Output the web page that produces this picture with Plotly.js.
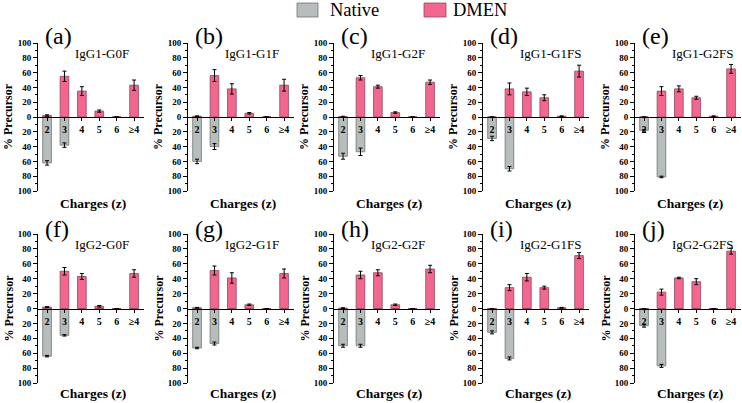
<!DOCTYPE html>
<html><head><meta charset="utf-8">
<script src="https://cdn.plot.ly/plotly-3.0.1.min.js"></script>
<style>html,body{margin:0;padding:0;background:#fff}#chart{width:742px;height:403px}</style>
</head><body><div id="chart"></div>
<script>
const categories = ['2', '3', '4', '5', '6', '≥4'];
const panelLetters = ['(a)', '(b)', '(c)', '(d)', '(e)', '(f)', '(g)', '(h)', '(i)', '(j)'];
const panelNames = ['IgG1-G0F', 'IgG1-G1F', 'IgG1-G2F', 'IgG1-G1FS', 'IgG1-G2FS',
                    'IgG2-G0F', 'IgG2-G1F', 'IgG2-G2F', 'IgG2-G1FS', 'IgG2-G2FS'];
const yTickValues = [-100, -80, -60, -40, -20, 0, 20, 40, 60, 80, 100];
const yTickLabels = ['100', '80', '60', '40', '20', '0', '20', '40', '60', '80', '100'];
const seriesNames = ['Native', 'DMEN'];

// % precursor per charge state (DMEN plotted upward, Native plotted downward)
const dmenA = [2, 55, 35, 8, 0, 43];      const dmenErrA = [1, 7, 6, 1.5, 0, 7];
const nativeA = [62, 38, 0, 0, 0, 0];     const nativeErrA = [3, 3, 0, 0, 0, 0];
const dmenB = [1, 56, 38, 5, 0, 43];      const dmenErrB = [0.5, 8, 7, 1, 0, 8];
const nativeB = [60, 40, 0, 0, 0, 0];     const nativeErrB = [3, 4, 0, 0, 0, 0];
const dmenC = [0.5, 53, 41, 6, 0, 47];    const dmenErrC = [0.5, 3, 2, 1, 0, 3];
const nativeC = [53, 47, 0, 0, 0, 0];     const nativeErrC = [4, 5, 0, 0, 0, 0];
const dmenD = [0, 38, 34, 26, 1, 62];     const dmenErrD = [0, 8, 5, 4, 0.5, 8];
const nativeD = [29, 70, 0, 0, 0, 0];     const nativeErrD = [3, 3, 0, 0, 0, 0];
const dmenE = [0, 35, 38, 26, 1, 65];     const dmenErrE = [0, 6, 4, 2, 0.5, 6];
const nativeE = [18, 81, 0, 0, 0, 0];     const nativeErrE = [1, 1, 0, 0, 0, 0];
const dmenF = [2, 50, 43, 3, 0, 47];      const dmenErrF = [0.5, 5, 4, 1, 0, 5];
const nativeF = [64, 36, 0, 0, 0, 0];     const nativeErrF = [1, 1, 0, 0, 0, 0];
const dmenG = [1, 51, 41, 5, 0, 47];      const dmenErrG = [0.5, 6, 7, 1, 0, 6];
const nativeG = [53, 47, 0, 0, 0, 0];     const nativeErrG = [1, 2, 0, 0, 0, 0];
const dmenH = [0.5, 45, 48, 5, 0, 53];    const dmenErrH = [0.5, 5, 4, 1, 0, 5];
const nativeH = [50, 50, 0, 0, 0, 0];     const nativeErrH = [2, 2, 0, 0, 0, 0];
const dmenI = [0, 28, 42, 28, 1, 71];     const dmenErrI = [0, 4, 5, 2, 0.5, 4];
const nativeI = [32, 67, 0, 0, 0, 0];     const nativeErrI = [2, 2, 0, 0, 0, 0];
const dmenJ = [0, 22, 41, 36, 0, 77];     const dmenErrJ = [0, 4, 1, 4, 0, 4];
const nativeJ = [23, 77, 0, 0, 0, 0];     const nativeErrJ = [2, 2, 0, 0, 0, 0];

const dmenSets = [dmenA, dmenB, dmenC, dmenD, dmenE, dmenF, dmenG, dmenH, dmenI, dmenJ];
const dmenErrSets = [dmenErrA, dmenErrB, dmenErrC, dmenErrD, dmenErrE, dmenErrF, dmenErrG, dmenErrH, dmenErrI, dmenErrJ];
const nativeSets = [nativeA, nativeB, nativeC, nativeD, nativeE, nativeF, nativeG, nativeH, nativeI, nativeJ];
const nativeErrSets = [nativeErrA, nativeErrB, nativeErrC, nativeErrD, nativeErrE, nativeErrF, nativeErrG, nativeErrH, nativeErrI, nativeErrJ];

const W = 742, H = 403;
const SERIF = 'Liberation Serif';
const GRAY = '#B7BDBD', GRAY_LINE = '#6F7474';
const PINK = '#F3668F', PINK_LINE = '#8E4A5C';
const colLeft = [38, 188, 334, 483, 635];
const plotW = 106;
const rowTop = [43, 234], rowBot = [191, 383];
const px = v => v / W;
const py = v => 1 - v / H;

const traces = [];
const layout = {
  width: W, height: H,
  margin: {l: 0, r: 0, t: 0, b: 0},
  paper_bgcolor: '#fff', plot_bgcolor: 'rgba(0,0,0,0)',
  barmode: 'overlay', showlegend: false,
  font: {family: SERIF, color: '#000'},
  annotations: [], shapes: []
};

for (let i = 0; i < 10; i++) {
  const col = i % 5, row = Math.floor(i / 5);
  const n = i + 1;
  const xa = n === 1 ? 'xaxis' : 'xaxis' + n;
  const ya = n === 1 ? 'yaxis' : 'yaxis' + n;
  const xr = n === 1 ? 'x' : 'x' + n;
  const yr = n === 1 ? 'y' : 'y' + n;
  const left = colLeft[col];
  const top = rowTop[row], bot = rowBot[row];
  const zeroY = (top + bot) / 2;

  traces.push({
    type: 'bar', name: seriesNames[0], x: categories,
    y: nativeSets[i].map(v => -v), width: 0.5,
    marker: {color: GRAY, line: {color: GRAY_LINE, width: 0.8}},
    error_y: {type: 'data', array: nativeErrSets[i], visible: true, color: '#000', thickness: 1, width: 2},
    xaxis: xr, yaxis: yr, hoverinfo: 'skip'
  });
  traces.push({
    type: 'bar', name: seriesNames[1], x: categories,
    y: dmenSets[i], width: 0.5,
    marker: {color: PINK, line: {color: PINK_LINE, width: 0.8}},
    error_y: {type: 'data', array: dmenErrSets[i], visible: true, color: '#000', thickness: 1, width: 2},
    xaxis: xr, yaxis: yr, hoverinfo: 'skip'
  });

  layout[xa] = {
    domain: [px(left), px(left + plotW)],
    anchor: 'free', position: py(zeroY),
    type: 'category', categoryorder: 'array', categoryarray: categories,
    range: [-0.52, 5.57], fixedrange: true,
    showline: true, linecolor: '#000', linewidth: 1,
    ticks: 'outside', ticklen: 3, tickcolor: '#000', tickwidth: 1,
    tickfont: {family: SERIF, size: 10, color: '#000', weight: 'bold'},
    showgrid: false, zeroline: false
  };
  layout[ya] = {
    domain: [py(bot), py(top)], anchor: xr,
    range: [-100, 100], fixedrange: true,
    tickmode: 'array', tickvals: yTickValues, ticktext: yTickLabels,
    showline: true, linecolor: '#000', linewidth: 1,
    ticks: 'outside', ticklen: 4, tickcolor: '#000', tickwidth: 1,
    minor: {tickmode: 'linear', tick0: 0, dtick: 10, ticks: 'outside', ticklen: 2, tickcolor: '#000', showgrid: false},
    tickfont: {family: SERIF, size: 9, color: '#000', weight: 'bold'},
    showgrid: false, zeroline: false
  };

  layout.annotations.push({
    xref: 'paper', yref: 'paper', x: px(left + 5), y: py(row === 0 ? 36 : 229),
    xanchor: 'left', yanchor: 'middle', showarrow: false,
    text: panelLetters[i], font: {family: SERIF, size: 24, color: '#000'}
  });
  layout.annotations.push({
    xref: 'paper', yref: 'paper', x: px(left + 35), y: py(row === 0 ? 53 : 244),
    xanchor: 'left', yanchor: 'middle', showarrow: false,
    text: panelNames[i], font: {family: SERIF, size: 13, color: '#000'}
  });
  layout.annotations.push({
    xref: 'paper', yref: 'paper', x: px(left - 30), y: py(zeroY),
    xanchor: 'center', yanchor: 'middle', showarrow: false, textangle: -90,
    text: '<b>% Precursor</b>', font: {family: SERIF, size: 12, color: '#000'}
  });
  layout.annotations.push({
    xref: 'paper', yref: 'paper', x: px(left + 55), y: py(row === 0 ? 203 : 393),
    xanchor: 'center', yanchor: 'middle', showarrow: false,
    text: '<b>Charges (z)</b>', font: {family: SERIF, size: 13.5, color: '#000'}
  });
}

// Legend
layout.shapes.push({type: 'rect', xref: 'paper', yref: 'paper', x0: px(297), x1: px(318), y0: py(17), y1: py(3),
  fillcolor: GRAY, line: {color: GRAY_LINE, width: 0.8}});
layout.shapes.push({type: 'rect', xref: 'paper', yref: 'paper', x0: px(424), x1: px(446), y0: py(17), y1: py(3),
  fillcolor: PINK, line: {color: PINK_LINE, width: 0.8}});
layout.annotations.push({xref: 'paper', yref: 'paper', x: px(328), y: py(10), xanchor: 'left', yanchor: 'middle',
  showarrow: false, text: seriesNames[0], font: {family: SERIF, size: 18.5, color: '#000'}});
layout.annotations.push({xref: 'paper', yref: 'paper', x: px(451), y: py(10), xanchor: 'left', yanchor: 'middle',
  showarrow: false, text: seriesNames[1], font: {family: SERIF, size: 18.5, color: '#000'}});

Plotly.newPlot('chart', traces, layout, {staticPlot: true, displayModeBar: false});
</script>
</body></html>
